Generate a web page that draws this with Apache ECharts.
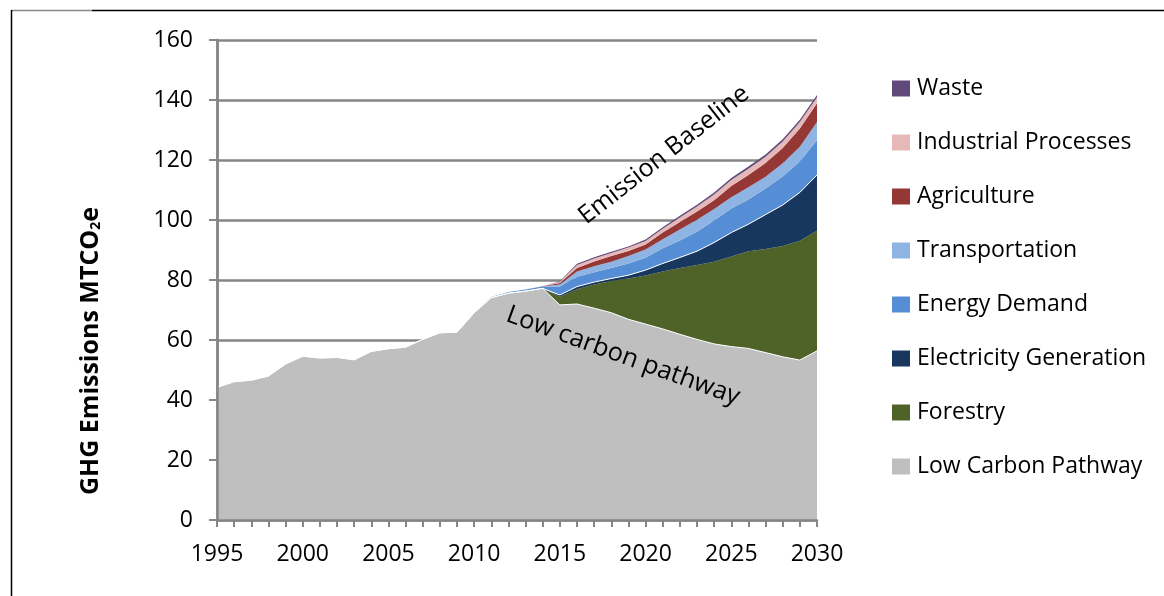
<!DOCTYPE html>
<html>
<head>
<meta charset="utf-8">
<script src="https://cdn.jsdelivr.net/npm/echarts@6/dist/echarts.min.js"></script>
<style>
html,body{margin:0;padding:0;background:#fff;}
#chart{width:1164px;height:596px;}
</style>
</head>
<body>
<div id="chart"></div>
<script>
const years = ['1995','1996','1997','1998','1999','2000','2001','2002','2003','2004','2005','2006','2007','2008','2009','2010','2011','2012','2013','2014','2015','2016','2017','2018','2019','2020','2021','2022','2023','2024','2025','2026','2027','2028','2029','2030'];
const yTicks = [0,20,40,60,80,100,120,140,160];

const lowCarbon   = [44.2,46.1,46.6,48.0,52.0,54.6,54.0,54.2,53.4,56.2,57.1,57.6,60.2,62.4,62.6,69.1,74.1,75.6,76.3,77.2, 71.7,72.0,70.6,69.1,66.9,65.3,63.7,61.9,60.2,58.7,57.8,57.2,55.8,54.4,53.3,56.4];
const forestry    = [0,0,0,0,0,0,0,0,0,0,0,0,0,0,0,0,0,0,0,0, 2.7,4.9,7.9,10.6,13.6,16.2,19.1,22.1,24.8,27.4,30.0,32.4,34.5,36.9,39.8,40.0];
const electricity = [0,0,0,0,0,0,0,0,0,0,0,0,0,0,0,0,0,0,0,0, 0.6,0.9,0.8,0.8,1.1,1.8,2.7,3.5,4.6,6.4,8.0,9.0,11.5,13.7,16.1,18.6];
const energy      = [0,0,0,0,0,0,0,0,0,0,0,0,0,0,0,0,0.2,0.4,0.5,0.6, 2.8,3.3,3.3,3.5,3.9,4.1,5.1,5.7,6.5,7.3,8.0,8.2,8.7,9.5,10.3,11.7];
const transport   = [0,0,0,0,0,0,0,0,0,0,0,0,0,0,0,0,0,0,0,0, 0.7,1.7,2.0,2.1,2.5,2.8,3.0,3.6,4.0,3.9,3.8,4.1,3.9,4.4,4.9,6.0];
const agriculture = [0,0,0,0,0,0,0,0,0,0,0,0,0,0,0,0,0,0,0,0.1, 0.5,1.2,1.6,1.9,1.7,1.6,2.2,2.5,2.7,2.9,3.7,4.1,4.6,5.1,6.1,6.2];
const industrial  = [0,0,0,0,0,0,0,0,0,0,0,0,0,0,0,0,0,0,0,0, 0.4,1.0,1.0,1.0,1.1,1.2,1.3,1.5,1.7,1.9,2.0,2.1,2.1,2.2,2.2,2.0];
const waste       = [0,0,0,0,0,0,0,0,0,0,0,0,0,0,0,0,0,0,0,0, 0.2,0.4,0.4,0.4,0.4,0.5,0.5,0.6,0.6,0.7,0.7,0.7,0.7,0.7,0.7,0.8];

const seriesNames = ['Low Carbon Pathway','Forestry','Electricity Generation','Energy Demand','Transportation','Agriculture','Industrial Processes','Waste'];
const seriesData = [lowCarbon, forestry, electricity, energy, transport, agriculture, industrial, waste];
const seriesColors = ['#BFBFBF','#4F6228','#17375E','#558ED5','#8EB4E3','#953735','#E6B9B8','#604A7B'];
const legendOrder = ['Waste','Industrial Processes','Agriculture','Transportation','Energy Demand','Electricity Generation','Forestry','Low Carbon Pathway'];

const FONT = 'Open Sans';
const chart = echarts.init(document.getElementById('chart'), null, {renderer:'canvas'});

const series = seriesNames.map((name, i) => ({
  name: name,
  type: 'line',
  stack: 'total',
  data: seriesData[i],
  symbol: 'none',
  showSymbol: false,
  smooth: false,
  color: seriesColors[i],
  itemStyle: {color: seriesColors[i]},
  lineStyle: (i === 0 || i === 2) ? {color:'#ffffff', width:1} : {width:0},
  areaStyle: {color: seriesColors[i], opacity: 1},
  emphasis: {disabled: true},
  silent: true,
  z: 2
}));

const option = {
  animation: false,
  backgroundColor: '#fff',
  grid: {left: 217, right: 347, top: 40, bottom: 76, containLabel: false},
  legend: {
    orient: 'vertical',
    left: 892,
    top: 77,
    padding: 0,
    data: legendOrder,
    icon: 'rect',
    itemWidth: 18,
    itemHeight: 16,
    itemGap: 31,
    selectedMode: false,
    textStyle: {fontFamily: FONT, fontSize: 23, lineHeight: 20, color: '#000', padding: [0,0,0,2]}
  },
  xAxis: {
    type: 'category',
    data: years,
    boundaryGap: false,
    z: 10,
    axisLine: {show: true, lineStyle: {color: '#868686', width: 2.5}},
    axisTick: {show: true, interval: 0, length: 7, lineStyle: {color: '#868686', width: 2}},
    axisLabel: {interval: 4, fontFamily: FONT, fontSize: 23, color: '#000', margin: 23},
    splitLine: {show: false}
  },
  yAxis: [{
    type: 'value',
    min: yTicks[0],
    max: yTicks[yTicks.length-1],
    interval: yTicks[1]-yTicks[0],
    axisLine: {show: true, lineStyle: {color: '#868686', width: 2.5}},
    axisTick: {show: true, length: 8, lineStyle: {color: '#868686', width: 2}},
    axisLabel: {fontFamily: FONT, fontSize: 23, color: '#000', margin: 24},
    splitLine: {show: true, lineStyle: {color: '#868686', width: 2.5}}
  },{
    type: 'value',
    position: 'left',
    min: yTicks[0],
    max: yTicks[yTicks.length-1],
    interval: yTicks[1]-yTicks[0],
    z: 10,
    axisLine: {show: true, lineStyle: {color: '#868686', width: 2.5}},
    axisTick: {show: true, length: 8, lineStyle: {color: '#868686', width: 2}},
    axisLabel: {show: false},
    splitLine: {show: false}
  }],
  graphic: [
    {type:'line', shape:{x1:11, y1:10.5, x2:92, y2:10.5}, style:{stroke:'#888', lineWidth:1.5}, silent:true},
    {type:'line', shape:{x1:92, y1:10.5, x2:1164, y2:10.5}, style:{stroke:'#000', lineWidth:1.5}, silent:true},
    {type:'line', shape:{x1:11.5, y1:10, x2:11.5, y2:596}, style:{stroke:'#000', lineWidth:1.5}, silent:true},
    {
      type:'text', x: 88, y: 351, rotation: Math.PI/2, silent:true,
      style:{
        text: '{m|GHG Emissions MTCO}{s|2}{m|e}',
        align:'center', verticalAlign:'middle',
        rich:{
          m:{fontFamily: FONT, fontWeight:'bold', fontSize:25, fill:'#000', verticalAlign:'bottom', lineHeight: 30},
          s:{fontFamily: FONT, fontWeight:'bold', fontSize:14, fill:'#000', verticalAlign:'bottom', lineHeight: 24}
        }
      }
    },
    {
      type:'text', x: 664, y: 155, rotation: 38*Math.PI/180, silent:true, z: 20,
      style:{text:'Emission Baseline', fontFamily: FONT, fontSize: 25, fill:'#000', align:'center', verticalAlign:'middle'}
    },
    {
      type:'text', x: 623, y: 356, rotation: -20*Math.PI/180, silent:true, z: 20,
      style:{text:'Low carbon pathway', fontFamily: FONT, fontSize: 25.5, fill:'#000', align:'center', verticalAlign:'middle'}
    }
  ],
  series: series
};
chart.setOption(option);
</script>
</body>
</html>
